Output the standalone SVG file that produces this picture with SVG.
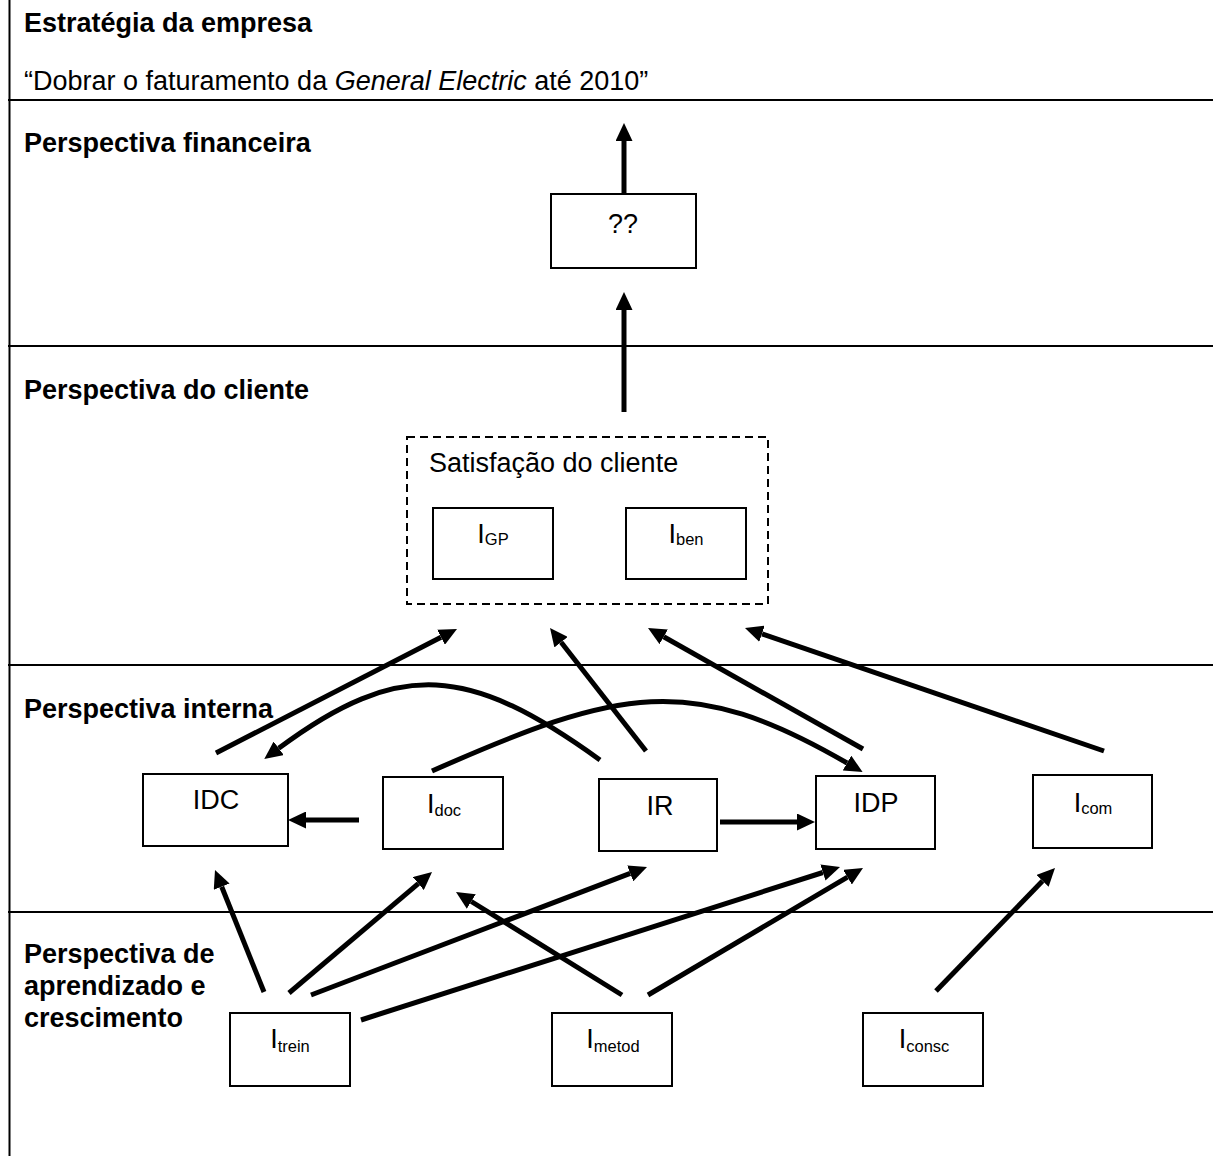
<svg xmlns="http://www.w3.org/2000/svg" width="1213" height="1156" viewBox="0 0 1213 1156">
<style>
  .lbl { font-family: "Liberation Sans", Arial, sans-serif; font-size: 27px; font-weight: bold; fill: #000; }
  .txt { font-family: "Liberation Sans", Arial, sans-serif; font-size: 27px; fill: #000; }
  .sub { font-size: 16.5px; }
  .rule { stroke: #000; stroke-width: 2; fill: none; }
  .box { stroke: #000; stroke-width: 2; fill: #fff; }
  .dash { stroke: #000; stroke-width: 2; fill: none; stroke-dasharray: 8 5; }
  .conn { stroke: #000; stroke-width: 5; fill: none; marker-end: url(#ah); }
</style>
<defs>
  <marker id="ah" markerUnits="userSpaceOnUse" viewBox="0 0 18 17" markerWidth="18" markerHeight="17" refX="0" refY="8.5" orient="auto">
    <path d="M0,0 L18,8.5 L0,17 z" fill="#000"/>
  </marker>
</defs>
<rect width="1213" height="1156" fill="#fff"/>
<g id="frame">
  <line class="rule" x1="9.5" y1="0" x2="9.5" y2="1156"/>
  <line class="rule" x1="8" y1="100" x2="1213" y2="100"/>
  <line class="rule" x1="8" y1="346" x2="1213" y2="346"/>
  <line class="rule" x1="8" y1="665" x2="1213" y2="665"/>
  <line class="rule" x1="8" y1="912" x2="1213" y2="912"/>
</g>
<g id="section-labels">
  <text class="lbl" x="24" y="32">Estratégia da empresa</text>
  <text class="txt" x="24" y="90">“Dobrar o faturamento da <tspan font-style="italic">General Electric</tspan> até 2010”</text>
  <text class="lbl" x="24" y="152">Perspectiva financeira</text>
  <text class="lbl" x="24" y="399">Perspectiva do cliente</text>
  <text class="lbl" x="24" y="718">Perspectiva interna</text>
  <text class="lbl" x="24" y="963">Perspectiva de</text>
  <text class="lbl" x="24" y="995">aprendizado e</text>
  <text class="lbl" x="24" y="1027">crescimento</text>
</g>
<g id="node-qq">
  <rect class="box" x="551" y="194" width="145" height="74"/>
  <text class="txt" x="623" y="233" text-anchor="middle">??</text>
</g>
<g id="node-satisfacao">
  <rect class="dash" x="407" y="437" width="361" height="167"/>
  <text class="txt" x="429" y="472">Satisfação do cliente</text>
</g>
<g id="node-igp">
  <rect class="box" x="433" y="508" width="120" height="71"/>
  <text class="txt" x="493" y="543" text-anchor="middle">I<tspan class="sub" dy="2">GP</tspan></text>
</g>
<g id="node-iben">
  <rect class="box" x="626" y="508" width="120" height="71"/>
  <text class="txt" x="686" y="543" text-anchor="middle">I<tspan class="sub" dy="2">ben</tspan></text>
</g>
<g id="node-idc">
  <rect class="box" x="143" y="774" width="145" height="72"/>
  <text class="txt" x="216" y="809" text-anchor="middle">IDC</text>
</g>
<g id="node-idoc">
  <rect class="box" x="383" y="777" width="120" height="72"/>
  <text class="txt" x="444" y="813" text-anchor="middle">I<tspan class="sub" dy="3">doc</tspan></text>
</g>
<g id="node-ir">
  <rect class="box" x="599" y="779" width="118" height="72"/>
  <text class="txt" x="660" y="815" text-anchor="middle">IR</text>
</g>
<g id="node-idp">
  <rect class="box" x="816" y="776" width="119" height="73"/>
  <text class="txt" x="876" y="812" text-anchor="middle">IDP</text>
</g>
<g id="node-icom">
  <rect class="box" x="1033" y="775" width="119" height="73"/>
  <text class="txt" x="1093" y="812" text-anchor="middle">I<tspan class="sub" dy="2">com</tspan></text>
</g>
<g id="node-itrein">
  <rect class="box" x="230" y="1013" width="120" height="73"/>
  <text class="txt" x="290" y="1048" text-anchor="middle">I<tspan class="sub" dy="4">trein</tspan></text>
</g>
<g id="node-imetod">
  <rect class="box" x="552" y="1013" width="120" height="73"/>
  <text class="txt" x="613" y="1048" text-anchor="middle">I<tspan class="sub" dy="4">metod</tspan></text>
</g>
<g id="node-iconsc">
  <rect class="box" x="863" y="1013" width="120" height="73"/>
  <text class="txt" x="924" y="1048" text-anchor="middle">I<tspan class="sub" dy="4">consc</tspan></text>
</g>
<g id="connectors">
  <path class="conn" d="M624,194 L624,141"/>
  <path class="conn" d="M624,412 L624,310"/>
  <path class="conn" d="M216,753 L441,637.2"/>
  <path class="conn" d="M646,751 L561.1,642.2"/>
  <path class="conn" d="M863,749 L663.7,636.8"/>
  <path class="conn" d="M1104,751 L762,633.8"/>
  <path class="conn" d="M359,820 L306,820"/>
  <path class="conn" d="M720,822 L797,822"/>
  <path class="conn" d="M432,771 C620,688 690,672 847,763"/>
  <path class="conn" d="M600,760 C470,666 400,658 278.7,748.3"/>
  <path class="conn" d="M264,992 L221.7,886.7"/>
  <path class="conn" d="M289,993 L418.3,883.6"/>
  <path class="conn" d="M311,995 L630.2,873.4"/>
  <path class="conn" d="M361,1020 L822.9,872.5"/>
  <path class="conn" d="M622,995 L471.3,901.5"/>
  <path class="conn" d="M648,995 L847.5,877.2"/>
  <path class="conn" d="M936,991 L1042.5,880.9"/>
</g>
</svg>
